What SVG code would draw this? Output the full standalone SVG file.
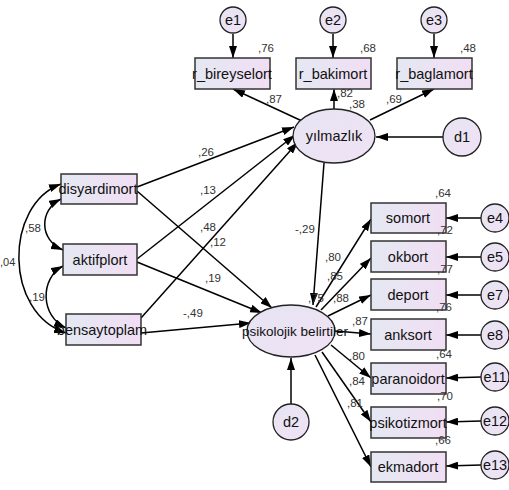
<svg xmlns="http://www.w3.org/2000/svg" width="509" height="490" viewBox="0 0 509 490">
<defs>
<linearGradient id="gb" x1="0" y1="0" x2="1" y2="0"><stop offset="0" stop-color="#e4e8f2"/><stop offset="1" stop-color="#f1def4"/></linearGradient>
<linearGradient id="ge" x1="0" y1="0" x2="1" y2="1"><stop offset="0" stop-color="#e6e4f2"/><stop offset="1" stop-color="#f0e2f4"/></linearGradient>
<marker id="a" viewBox="0 0 12 8" refX="12" refY="4" markerWidth="12" markerHeight="8" orient="auto-start-reverse" markerUnits="userSpaceOnUse"><path d="M0,0 L12,4 L0,8 z" fill="#000"/></marker>
</defs>
<style>
.box{fill:url(#gb);stroke:#333;stroke-width:1.5}
.ell{fill:url(#ge);stroke:#222;stroke-width:1.3}
.t{font-family:"Liberation Sans",Arial,sans-serif;font-size:14.5px;fill:#111;text-anchor:middle}
.n{font-family:"Liberation Sans",Arial,sans-serif;font-size:11.5px;fill:#333}
.c line,.c path{stroke:#000;stroke-width:1.5;fill:none;marker-end:url(#a)}
.c path.d{marker-start:url(#a)}
</style>
<g id="connectors" class="c">
<line x1="233" y1="34" x2="233" y2="58"/>
<line x1="333" y1="34" x2="333" y2="58"/>
<line x1="434" y1="34" x2="434" y2="58"/>
<line x1="302" y1="121" x2="233" y2="89"/>
<line x1="334" y1="109" x2="334" y2="89"/>
<line x1="370" y1="120" x2="434" y2="89"/>
<line x1="443" y1="137" x2="376" y2="137"/>
<line x1="137" y1="187" x2="294" y2="127"/>
<line x1="137" y1="259" x2="295" y2="135"/>
<line x1="141" y1="318" x2="298" y2="142"/>
<line x1="137" y1="191" x2="272" y2="308"/>
<line x1="137" y1="262" x2="262" y2="313"/>
<line x1="141" y1="333" x2="251" y2="323"/>
<line x1="324" y1="163" x2="313" y2="305"/>
<line x1="316" y1="307" x2="371" y2="219"/>
<line x1="321" y1="310" x2="371" y2="258"/>
<line x1="328" y1="316" x2="371" y2="295"/>
<line x1="335" y1="331" x2="371" y2="334"/>
<line x1="331" y1="345" x2="371" y2="378"/>
<line x1="322" y1="352" x2="371" y2="422"/>
<line x1="315" y1="355" x2="371" y2="467"/>
<line x1="291" y1="404" x2="291" y2="358"/>
<line x1="481" y1="218" x2="446" y2="218"/>
<line x1="481" y1="257" x2="446" y2="257"/>
<line x1="481" y1="295" x2="446" y2="295"/>
<line x1="481" y1="335" x2="446" y2="335"/>
<line x1="481" y1="377" x2="446" y2="378"/>
<line x1="481" y1="421" x2="446" y2="422"/>
<line x1="481" y1="465" x2="446" y2="466"/>
<path class="d" d="M61,184 C4,205 4,313 66,333"/>
<path class="d" d="M61,199 C39,210 39,240 63,250"/>
<path class="d" d="M63,266 C40,278 40,316 66,328"/>
</g>
<g id="e1"><circle class="ell" cx="233" cy="20" r="13"/><text class="t" x="233" y="25">e1</text></g>
<g id="e2"><circle class="ell" cx="333" cy="20" r="13"/><text class="t" x="333" y="25">e2</text></g>
<g id="e3"><circle class="ell" cx="434" cy="20" r="13"/><text class="t" x="434" y="25">e3</text></g>
<g id="r_bireyselort"><rect class="box" x="195" y="58" width="75" height="31"/><text class="t" x="232" y="79">r_bireyselort</text></g>
<g id="r_bakimort"><rect class="box" x="296" y="58" width="75" height="31"/><text class="t" x="333" y="79">r_bakimort</text></g>
<g id="r_baglamort"><rect class="box" x="397" y="58" width="75" height="31"/><text class="t" x="434" y="79">r_baglamort</text></g>
<g id="yilmazlik"><ellipse class="ell" cx="334" cy="136" rx="41" ry="27"/><text class="t" x="334" y="141">yılmazlık</text></g>
<g id="d1"><circle class="ell" cx="462" cy="137" r="19"/><text class="t" x="462" y="142">d1</text></g>
<g id="disyardimort"><rect class="box" x="61" y="174" width="76" height="30"/><text class="t" x="98" y="194">disyardimort</text></g>
<g id="aktifplort"><rect class="box" x="63" y="244" width="74" height="31"/><text class="t" x="100" y="265">aktifplort</text></g>
<g id="bensaytoplam"><rect class="box" x="66" y="314" width="75" height="31"/><text class="t" x="102" y="335">bensaytoplam</text></g>
<g id="psikolojik"><ellipse class="ell" cx="291" cy="331" rx="44" ry="26"/><text class="t" x="295" y="336" style="font-size:13.5px">psikolojik belirtiler</text></g>
<g id="d2"><circle class="ell" cx="291" cy="422" r="18"/><text class="t" x="291" y="427">d2</text></g>
<g id="somort"><rect class="box" x="371" y="203" width="75" height="30"/><text class="t" x="408" y="223">somort</text></g>
<g id="okbort"><rect class="box" x="371" y="241" width="75" height="31"/><text class="t" x="408" y="262">okbort</text></g>
<g id="deport"><rect class="box" x="371" y="279" width="75" height="31"/><text class="t" x="408" y="300">deport</text></g>
<g id="anksort"><rect class="box" x="371" y="319" width="75" height="31"/><text class="t" x="408" y="340">anksort</text></g>
<g id="paranoidort"><rect class="box" x="371" y="363" width="75" height="31"/><text class="t" x="408" y="384">paranoidort</text></g>
<g id="psikotizmort"><rect class="box" x="371" y="407" width="75" height="31"/><text class="t" x="408" y="428">psikotizmort</text></g>
<g id="ekmadort"><rect class="box" x="371" y="452" width="75" height="30"/><text class="t" x="408" y="472">ekmadort</text></g>
<g id="e4"><circle class="ell" cx="495" cy="218" r="14"/><text class="t" x="495" y="223">e4</text></g>
<g id="e5"><circle class="ell" cx="495" cy="257" r="14"/><text class="t" x="495" y="262">e5</text></g>
<g id="e7"><circle class="ell" cx="495" cy="295" r="14"/><text class="t" x="495" y="300">e7</text></g>
<g id="e8"><circle class="ell" cx="495" cy="335" r="14"/><text class="t" x="495" y="340">e8</text></g>
<g id="e11"><circle class="ell" cx="495" cy="377" r="14"/><text class="t" x="495" y="382">e11</text></g>
<g id="e12"><circle class="ell" cx="495" cy="421" r="14"/><text class="t" x="495" y="426">e12</text></g>
<g id="e13"><circle class="ell" cx="495" cy="465" r="14"/><text class="t" x="495" y="470">e13</text></g>
<g id="labels">
<text class="n" x="258" y="52">,76</text>
<text class="n" x="360" y="52">,68</text>
<text class="n" x="460" y="52">,48</text>
<text class="n" x="266" y="103">,87</text>
<text class="n" x="337" y="97">,82</text>
<text class="n" x="349" y="108">,38</text>
<text class="n" x="386" y="103">,69</text>
<text class="n" x="198" y="156">,26</text>
<text class="n" x="200" y="194">,13</text>
<text class="n" x="200" y="231">,48</text>
<text class="n" x="210" y="246">,12</text>
<text class="n" x="205" y="282">,19</text>
<text class="n" x="183" y="317">-,49</text>
<text class="n" x="295" y="233">-,29</text>
<text class="n" x="308" y="302">,75</text>
<text class="n" x="325" y="261">,80</text>
<text class="n" x="327" y="280">,85</text>
<text class="n" x="333" y="302">,88</text>
<text class="n" x="352" y="325">,87</text>
<text class="n" x="349" y="360">,80</text>
<text class="n" x="349" y="385">,84</text>
<text class="n" x="347" y="407">,81</text>
<text class="n" x="435" y="197">,64</text>
<text class="n" x="437" y="234">,72</text>
<text class="n" x="437" y="273">,77</text>
<text class="n" x="436" y="311">,76</text>
<text class="n" x="436" y="358">,64</text>
<text class="n" x="437" y="400">,70</text>
<text class="n" x="435" y="444">,66</text>
<text class="n" x="25" y="232">,58</text>
<text class="n" x="29" y="301">,19</text>
<text class="n" x="0" y="266" style="font-size:11px">,04</text>
</g>
</svg>
